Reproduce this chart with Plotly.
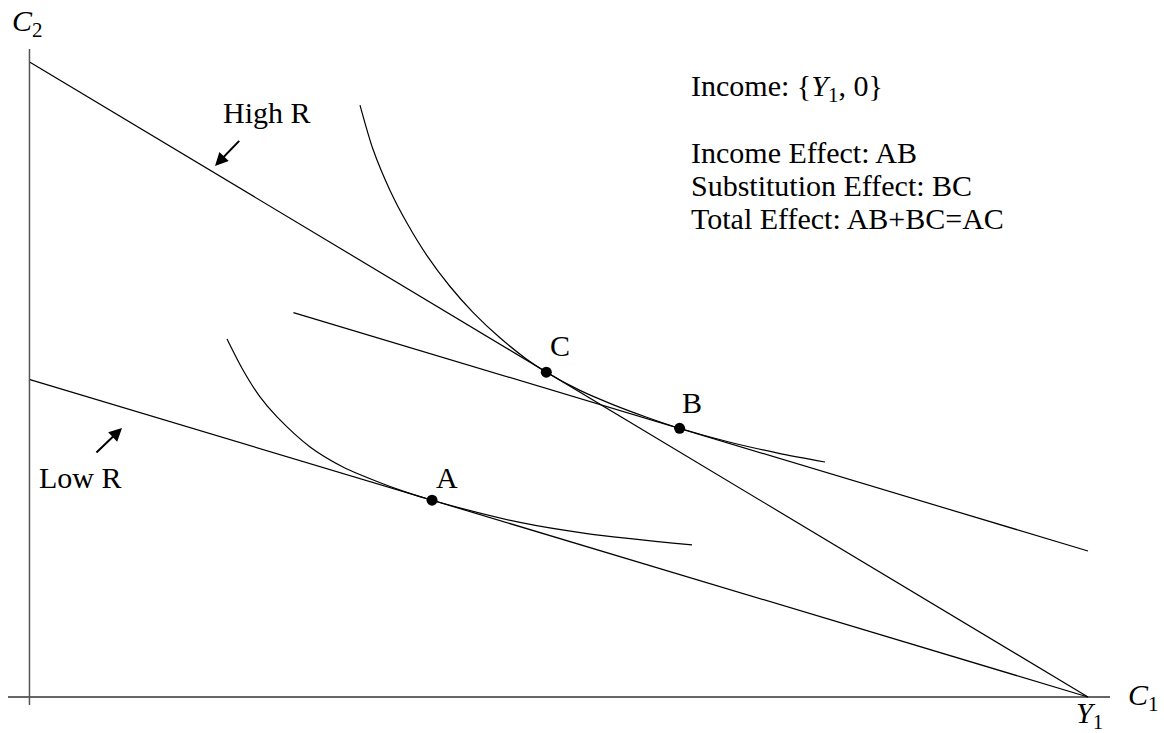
import plotly.graph_objects as go

# ---- data (economic units: C1 horizontal, C2 vertical) ----
Y1 = 100.0
high_R_c2_intercept = 60.0
low_R_c2_intercept = 30.0

high_line_c1 = [0.0, Y1]
high_line_c2 = [high_R_c2_intercept, 0.0]
low_line_c1 = [0.0, Y1]
low_line_c2 = [low_R_c2_intercept, 0.0]
comp_line_c1 = [24.9, 100.0]
comp_line_c2 = [36.33, 13.8]

ic_upper_c1 = [31.19, 32.42, 34.03, 35.63, 37.52, 39.70, 41.87, 44.42, 46.88, 48.80,
               51.98, 55.10, 58.22, 61.40, 66.07, 70.79, 75.14]
ic_upper_c2 = [55.95, 51.77, 47.88, 44.80, 41.72, 38.80, 36.36, 33.95, 31.98, 30.70,
               28.98, 27.64, 26.47, 25.40, 24.10, 23.03, 22.21]

ic_lower_c1 = [18.62, 20.13, 21.74, 23.35, 26.47, 29.58, 32.80, 35.26, 38.00, 46.31, 52.65, 62.57]
ic_lower_c2 = [33.84, 30.91, 28.36, 26.47, 23.63, 21.74, 20.37, 19.46, 18.60, 16.50, 15.45, 14.37]

point_names = ["A", "B", "C"]
point_c1 = [38.0, 61.4, 48.8]
point_c2 = [18.6, 25.4, 30.7]

info_lines = ["Income: {<i>Y</i><sub>1</sub>, 0}",
              "Income Effect: AB",
              "Substitution Effect: BC",
              "Total Effect: AB+BC=AC"]

FONT = "Liberation Serif"
FS = 30
BLACK = "#000000"

fig = go.Figure()

# axes lines
fig.add_trace(go.Scatter(x=[-2.08, 102.08], y=[0, 0], mode="lines",
                         line=dict(color="#333333", width=1.3), hoverinfo="skip"))
fig.add_trace(go.Scatter(x=[-0.05, -0.05], y=[-0.76, 61.25], mode="lines",
                         line=dict(color="#555555", width=1.5), hoverinfo="skip"))

# budget lines
for xs, ys in [(high_line_c1, high_line_c2), (low_line_c1, low_line_c2),
               (comp_line_c1, comp_line_c2)]:
    fig.add_trace(go.Scatter(x=xs, y=ys, mode="lines",
                             line=dict(color=BLACK, width=1.2), hoverinfo="skip"))

# indifference curves
for xs, ys in [(ic_upper_c1, ic_upper_c2), (ic_lower_c1, ic_lower_c2)]:
    fig.add_trace(go.Scatter(x=xs, y=ys, mode="lines",
                             line=dict(color=BLACK, width=1.2, shape="spline", smoothing=0.8),
                             hoverinfo="skip"))

# points
fig.add_trace(go.Scatter(x=point_c1, y=point_c2, mode="markers",
                         marker=dict(color=BLACK, size=11), hoverinfo="skip"))

ann = []
def txt(x, y, s, xanchor="center", yanchor="middle", size=FS):
    ann.append(dict(x=x, y=y, xref="x", yref="y", text=s, showarrow=False,
                    xanchor=xanchor, yanchor=yanchor,
                    font=dict(family=FONT, size=size, color=BLACK)))

# point labels
label_offsets = {"A": (1.41, 2.1), "B": (1.17, 2.39), "C": (1.29, 2.48)}
for n, x, y in zip(point_names, point_c1, point_c2):
    dx, dy = label_offsets[n]
    txt(x + dx, y + dy, n)

# info block
info_y = [57.56, 51.51, 48.39, 45.27]
for s, y in zip(info_lines, info_y):
    txt(62.3, y, s, xanchor="left")

txt(22.4, 55.29, "High R")
txt(4.73, 20.70, "Low R")

# axis labels
txt(105.2, 0.0, "<i>C</i><sub>1</sub>")
txt(100.1, -1.7, "<i>Y</i><sub>1</sub>")
txt(-0.19, 63.7, "<i>C</i><sub>2</sub>")

# arrows
for (hx, hy, tx, ty) in [(17.49, 50.19, 19.91, 52.71), (8.70, 25.43, 6.14, 22.97)]:
    ann.append(dict(x=hx, y=hy, ax=tx, ay=ty, xref="x", yref="y", axref="x", ayref="y",
                    text="", showarrow=True, arrowhead=2, arrowsize=1.3,
                    arrowwidth=2, arrowcolor=BLACK))

fig.update_layout(
    width=1164, height=733,
    margin=dict(l=0, r=0, t=0, b=0),
    paper_bgcolor="white", plot_bgcolor="white",
    showlegend=False,
    font=dict(family=FONT, size=FS, color=BLACK),
    xaxis=dict(range=[-30 / 10.58, 1134 / 10.58], visible=False, fixedrange=True),
    yaxis=dict(range=[-36 / 10.58, 697 / 10.58], visible=False, fixedrange=True),
    annotations=ann,
)

fig.write_html("out.html", config={"displayModeBar": False},
               post_script="document.body.style.margin='0';document.body.style.overflow='hidden';")
